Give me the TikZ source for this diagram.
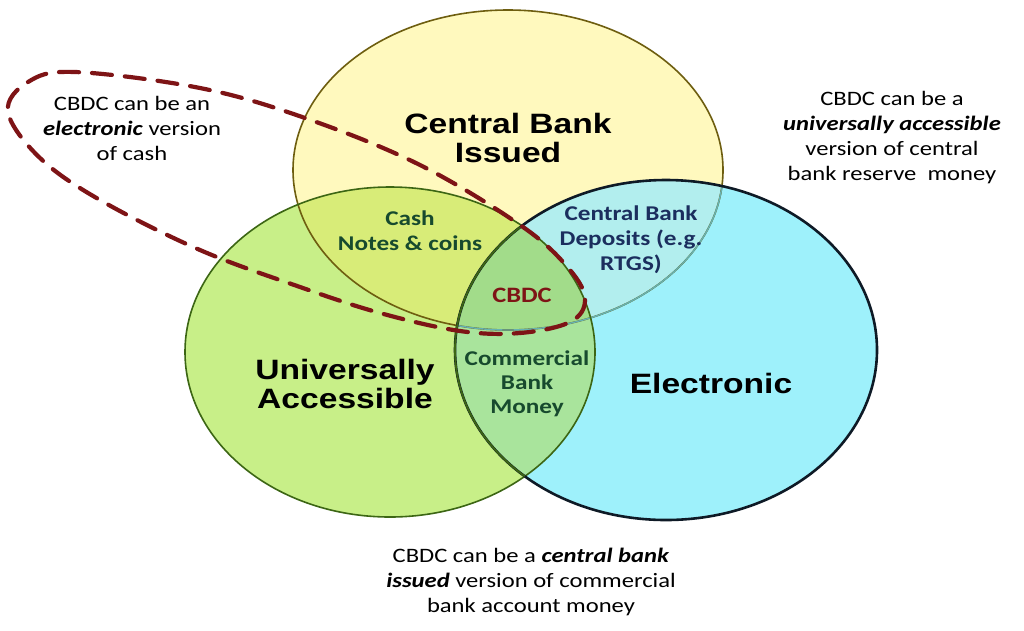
\documentclass[tikz,border=0pt]{standalone}
\usepackage{fontspec}
\setmainfont{Carlito}[FakeStretch=1.2]
\newfontfamily\arialb{Liberation Sans}[FakeStretch=1.2]
\definecolor{ylw}{HTML}{FFF9BE}
\definecolor{ylwedge}{HTML}{6E5E10}
\definecolor{grn}{HTML}{C8EF88}
\definecolor{grnedge}{HTML}{3C6614}
\definecolor{cyn}{HTML}{9EF1FB}
\definecolor{cynedge}{HTML}{0E1A26}
\definecolor{yg}{HTML}{D8EC78}
\definecolor{yc}{HTML}{B2EEEE}
\definecolor{gc}{HTML}{A9E49C}
\definecolor{ygc}{HTML}{A2DC8A}
\definecolor{dred}{HTML}{7E1416}
\definecolor{lbl}{HTML}{174A2E}
\definecolor{lblb}{HTML}{1B2E5E}
\tikzset{
  bigtxt/.style={anchor=base, align=center, inner sep=0pt, font=\arialb\bfseries\fontsize{28}{28.5}\selectfont, text=black},
  smalltxt/.style={anchor=base, align=center, inner sep=0pt, font=\bfseries\fontsize{21}{25}\selectfont, text=lbl},
  notetxt/.style={anchor=base, align=center, inner sep=0pt, font=\fontsize{20.5}{25}\selectfont, text=black},
}
\newcommand{\Yell}{(508,170) ellipse [x radius=215, y radius=160]}
\newcommand{\Gell}{(390,352) ellipse [x radius=205, y radius=165]}
\newcommand{\Cell}{(666,350) ellipse [x radius=211, y radius=170]}
\begin{document}
\begin{tikzpicture}[x=1pt, y=-1pt]
\useasboundingbox (0,0) rectangle (1024,630);
\fill[white] (0,0) rectangle (1024,630);
% base fills
\fill[ylw] \Yell;
\fill[grn] \Gell;
\fill[cyn] \Cell;
% overlaps
\begin{scope}
  \clip \Yell; \fill[yg] \Gell;
\end{scope}
\begin{scope}
  \clip \Yell; \fill[yc] \Cell;
\end{scope}
\begin{scope}
  \clip \Gell; \fill[gc] \Cell;
\end{scope}
\begin{scope}
  \clip \Yell; \clip \Gell; \fill[ygc] \Cell;
\end{scope}
% edges
\draw[ylwedge, line width=1.6pt] \Yell;
\begin{scope}
  \clip \Cell; \draw[teal!60!white, line width=1.4pt] \Yell;
\end{scope}
\draw[grnedge, line width=1.6pt] \Gell;
\draw[cynedge, line width=2.6pt] \Cell;
\begin{scope}
  \clip \Gell; \draw[grnedge, line width=1.8pt] \Cell;
\end{scope}
% dashed loop
\draw[dred, line width=4.2pt, line cap=round, dash pattern=on 20pt off 13pt]
  plot[smooth cycle, tension=0.6] coordinates {
  (8,112) (28,82) (75,72) (200,88) (305,118) (420,165) (523,227)
  (570,270) (585,300) (570,322) (520,333) (460,331) (380,313)
  (300,287) (200,250) (100,200) (40,158)};
% labels (anchor = baseline of the last line)
\node[bigtxt] (cbi) at (508,162) {Central Bank\\Issued};
\node[bigtxt] (ua) at (345,408) {Universally\\Accessible};
\node[bigtxt] (el) at (711,393) {Electronic};
\node[smalltxt] (cash) at (410,250) {Cash\\Notes \& coins};
\node[smalltxt, text=lblb] (cbd) at (631,270) {Central Bank\\Deposits (e.g.\\RTGS)};
\node[smalltxt, text=dred, font=\bfseries\fontsize{22}{25}\selectfont] (cbdc) at (522,302) {CBDC};
\node[smalltxt, font=\bfseries\fontsize{21}{24}\selectfont] (cbm) at (527,413) {Commercial\\Bank\\Money};
\node[notetxt] (n1) at (132,160) {CBDC can be an\\\textbf{\textit{electronic}} version\\of cash};
\node[notetxt] (n2) at (892,180) {CBDC can be a\\\textbf{\textit{universally accessible}}\\version of central\\bank reserve\ \ money};
\node[notetxt] (n3) at (531,612) {CBDC can be a \textbf{\textit{central bank}}\\\textbf{\textit{issued}} version of commercial\\bank account money};
\end{tikzpicture}
\end{document}
